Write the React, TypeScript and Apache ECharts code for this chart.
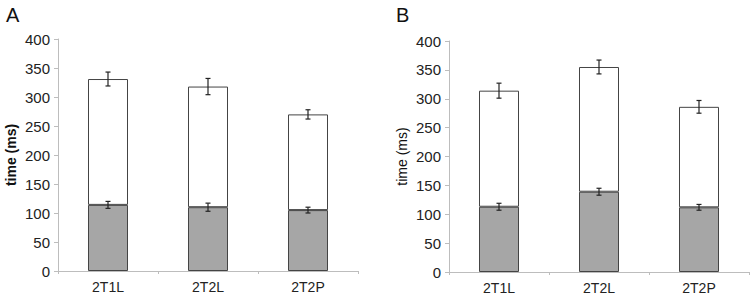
import React, { useEffect, useRef } from "react";
import * as echarts from "echarts";

const categories = ["2T1L", "2T2L", "2T2P"];
const yTicks = [0, 50, 100, 150, 200, 250, 300, 350, 400];

// Panel A
const aLower = [114, 110, 105];
const aLowerErr = [6, 7, 5];
const aTotal = [331, 318, 270];
const aTotalErr = [12, 14, 8];

// Panel B
const bLower = [113, 139, 112];
const bLowerErr = [6, 6, 5];
const bTotal = [314, 355, 286];
const bTotalErr = [13, 12, 11];

const panelLabels = ["A", "B"];

function errItem(params: any, api: any) {
  const x = api.value(0);
  const c = api.value(1);
  const e = api.value(2);
  const top = api.coord([x, c + e]);
  const bot = api.coord([x, c - e]);
  const hw = 2.5;
  const st = { stroke: "#222", lineWidth: 1.2 };
  return {
    type: "group",
    children: [
      { type: "line", shape: { x1: top[0], y1: top[1], x2: bot[0], y2: bot[1] }, style: st },
      { type: "line", shape: { x1: top[0] - hw, y1: top[1], x2: top[0] + hw, y2: top[1] }, style: st },
      { type: "line", shape: { x1: bot[0] - hw, y1: bot[1], x2: bot[0] + hw, y2: bot[1] }, style: st },
    ],
  };
}

export default function App() {
  const ref = useRef<HTMLDivElement>(null);
  useEffect(() => {
    if (!ref.current) return;
    const chart = echarts.init(ref.current, null, { renderer: "svg" });
    const axisColor = "#bdbdbd";
    const fontFamily = "Liberation Sans, Arial, sans-serif";
    const mkX = (gi: number) => ({
      type: "category",
      gridIndex: gi,
      data: categories,
      axisLine: { lineStyle: { color: axisColor, width: 1 } },
      axisTick: { show: true, length: 3, lineStyle: { color: axisColor } },
      axisLabel: { color: "#222", fontSize: 14, fontFamily, margin: 9 },
    });
    const mkY = (gi: number, bold: boolean) => ({
      type: "value",
      gridIndex: gi,
      min: 0,
      max: 400,
      interval: 50,
      name: "time (ms)",
      nameLocation: "middle",
      nameRotate: 90,
      nameGap: 40,
      nameTextStyle: { color: "#111", fontSize: 14, fontWeight: bold ? "bold" : "normal", fontFamily },
      axisLine: { show: true, lineStyle: { color: axisColor, width: 1 } },
      axisTick: { show: true, length: 4, lineStyle: { color: axisColor } },
      axisLabel: { color: "#222", fontSize: 15, fontFamily, margin: 8, formatter: (v: number) => (yTicks.includes(v) ? String(v) : "") },
      splitLine: { show: false },
    });
    const barStyle = (fill: string) => ({ color: fill, borderColor: "#444", borderWidth: 1 });
    const panels = [
      { lower: aLower, lowerErr: aLowerErr, total: aTotal, totalErr: aTotalErr },
      { lower: bLower, lowerErr: bLowerErr, total: bTotal, totalErr: bTotalErr },
    ];
    const series: any[] = [];
    panels.forEach((p, gi) => {
      series.push({
        type: "bar",
        xAxisIndex: gi,
        yAxisIndex: gi,
        stack: "s" + gi,
        barWidth: "40%",
        data: p.lower,
        itemStyle: barStyle("#a6a6a6"),
      });
      series.push({
        type: "bar",
        xAxisIndex: gi,
        yAxisIndex: gi,
        stack: "s" + gi,
        barWidth: "40%",
        data: p.total.map((t, i) => t - p.lower[i]),
        itemStyle: barStyle("#ffffff"),
      });
      series.push({
        type: "custom",
        xAxisIndex: gi,
        yAxisIndex: gi,
        renderItem: errItem,
        z: 10,
        data: p.lower.map((v, i) => [i, v, p.lowerErr[i]]),
      });
      series.push({
        type: "custom",
        xAxisIndex: gi,
        yAxisIndex: gi,
        renderItem: errItem,
        z: 10,
        data: p.total.map((v, i) => [i, v, p.totalErr[i]]),
      });
    });
    chart.setOption({
      animation: false,
      backgroundColor: "#ffffff",
      title: [
        { text: panelLabels[0], left: 1, top: 0, textStyle: { fontSize: 20, fontWeight: "normal", color: "#111", fontFamily } },
        { text: panelLabels[1], left: 391, top: 0, textStyle: { fontSize: 20, fontWeight: "normal", color: "#111", fontFamily } },
      ],
      grid: [
        { left: 58, top: 39, width: 300, height: 232 },
        { left: 449, top: 41, width: 300, height: 232 },
      ],
      xAxis: [mkX(0), mkX(1)],
      yAxis: [mkY(0, true), mkY(1, false)],
      series,
    });
    return () => chart.dispose();
  }, []);
  return <div ref={ref} style={{ width: 752, height: 295, position: "absolute", left: 0, top: 0 }} />;
}
